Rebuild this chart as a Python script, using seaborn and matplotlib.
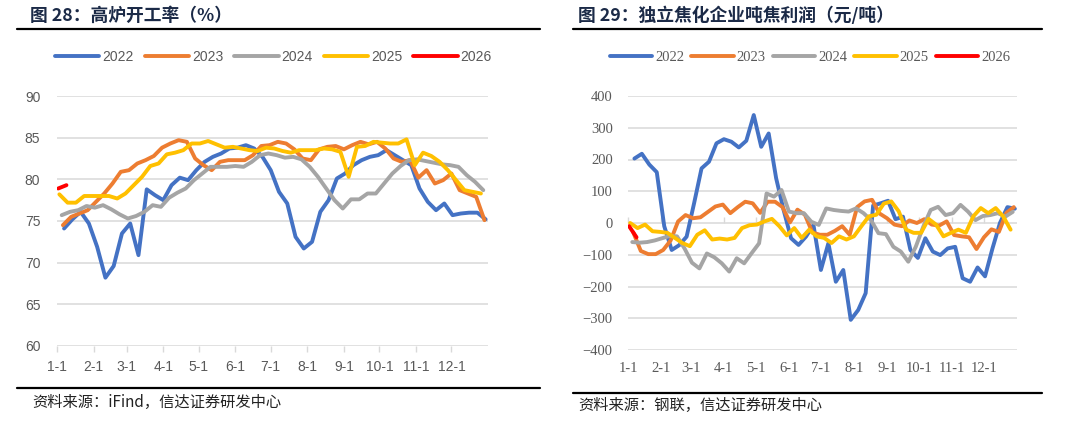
import numpy as np
import pandas as pd
import matplotlib
matplotlib.use("Agg")
import matplotlib.pyplot as plt
import seaborn as sns
from matplotlib.lines import Line2D
from matplotlib.ticker import NullFormatter

# ---------------- data ----------------
years = ["2022", "2023", "2024", "2025", "2026"]
start_dates = ["2022-01-07", "2023-01-06", "2024-01-05", "2025-01-03", "2026-01-02"]
colors = ["#4472C4", "#ED7D31", "#A5A5A5", "#FFC000", "#FF0000"]

# 高炉开工率 (%), weekly
bf_2022 = [74.1, 75.2, 76.1, 74.7, 71.9, 68.2, 69.6, 73.5, 74.7, 70.9,
           78.8, 78.1, 77.5, 79.3, 80.2, 79.9, 81.1, 82.1, 82.7, 83.1,
           83.7, 83.8, 84.1, 83.7, 82.7, 81.1, 78.5, 77.1, 73.1, 71.7,
           72.5, 76.1, 77.5, 80.1, 80.7, 81.7, 82.3, 82.7, 82.9, 83.5,
           82.9, 82.3, 81.7, 78.9, 77.3, 76.3, 77.1, 75.7, 75.9, 76.0,
           76.0, 75.2]
bf_2023 = [74.5, 75.5, 75.9, 76.3, 77.3, 78.3, 79.5, 80.9, 81.1, 81.9,
           82.3, 82.8, 83.8, 84.3, 84.7, 84.5, 82.5, 81.7, 81.1, 82.1,
           82.3, 82.3, 82.3, 82.9, 84.0, 84.1, 84.5, 84.3, 83.6, 82.5,
           82.3, 83.6, 83.9, 84.0, 83.6, 84.1, 84.5, 84.2, 84.5, 83.7,
           82.5, 82.1, 82.3, 80.2, 81.1, 79.5, 79.9, 80.7, 78.7, 78.3,
           77.9, 75.1]
bf_2024 = [75.7, 76.1, 76.3, 76.8, 76.6, 76.9, 76.4, 75.8, 75.3, 75.6,
           76.1, 76.9, 76.7, 77.8, 78.4, 78.9, 79.9, 80.7, 81.5, 81.5,
           81.5, 81.6, 81.5, 82.1, 82.9, 83.1, 82.9, 82.6, 82.7, 82.4,
           81.5, 80.3, 78.9, 77.5, 76.5, 77.6, 77.6, 78.3, 78.3, 79.5,
           80.7, 81.6, 82.3, 82.4, 82.2, 82.0, 81.8, 81.7, 81.5, 80.5,
           79.7, 78.7]
bf_2025 = [78.2, 77.2, 77.2, 78.0, 78.0, 78.0, 78.0, 77.7, 78.3, 79.3,
           80.3, 81.6, 81.9, 83.0, 83.2, 83.5, 84.3, 84.3, 84.6, 84.2,
           83.8, 83.9, 83.7, 83.5, 83.4, 83.8, 83.7, 83.4, 83.2, 83.5,
           83.5, 83.5, 83.7, 83.6, 83.3, 80.3, 83.9, 84.0, 84.5, 84.4,
           84.3, 84.3, 84.8, 81.7, 83.2, 82.8, 82.1, 81.1, 79.9, 78.7,
           78.5, 78.3]
bf_2026 = [78.9, 79.3]

# 独立焦化企业吨焦利润 (元/吨), weekly
pf_2022 = [203, 218, 184, 160, -10, -85, -70, -43, 62, 172,
           193, 251, 264, 256, 238, 259, 340, 240, 282, 141,
           41, -48, -69, -43, -6, -148, -64, -185, -148, -305,
           -274, -221, 55, 62, 70, 12, 20, -85, -110, -48,
           -90, -101, -80, -75, -174, -185, -140, -168, -80, 0,
           50, 45]
pf_2023 = [-30, -88, -98, -98, -85, -55, 5, 25, 15, 18,
           35, 52, 58, 31, 50, 67, 62, 32, 67, 67,
           50, 2, 42, 26, -30, -37, -37, -25, -10, -37,
           50, 68, 73, 30, 15, -5, -10, 8, 0, 12,
           -5, -8, 5, -38, -42, -45, -82, -45, -20, -28,
           32, 50]
pf_2024 = [-60, -62, -60, -55, -48, -41, -42, -80, -125, -143,
           -96, -108, -127, -153, -111, -127, -95, -64, 93, 83,
           104, 36, 31, 31, 4, -6, 46, 41, 38, 36,
           46, 31, 9, -32, -35, -75, -90, -122, -75, -12,
           41, 51, 25, 31, 57, 36, 9, 22, 25, 31,
           20, 35]
pf_2025 = [0, -16, -5, -26, -28, -31, -47, -63, -73, -37,
           -23, -52, -49, -52, -47, -16, -7, -5, 5, 13,
           -10, -39, -16, -47, -21, -42, -47, -63, -42, -52,
           -42, -10, 21, 26, 61, 68, 37, -21, -31, -31,
           13, -5, -42, -31, -21, -31, 21, 47, 31, 47,
           21, -21]
pf_2026 = [-10, -45]

month_labels = ["1-1", "2-1", "3-1", "4-1", "5-1", "6-1",
                "7-1", "8-1", "9-1", "10-1", "11-1", "12-1"]
left_yticks = [60, 65, 70, 75, 80, 85, 90]
right_yticks = [-400, -300, -200, -100, 0, 100, 200, 300, 400]


def long_frame(series):
    rows = []
    for yr, start, vals in zip(years, start_dates, series):
        dates = pd.date_range(start, periods=len(vals), freq="7D")
        day = (dates - pd.Timestamp(int(yr), 1, 1)).days
        rows.append(pd.DataFrame({"day": day, "value": vals, "year": yr}))
    return pd.concat(rows, ignore_index=True)


df_bf = long_frame([bf_2022, bf_2023, bf_2024, bf_2025, bf_2026])
df_pf = long_frame([pf_2022, pf_2023, pf_2024, pf_2025, pf_2026])
month_pos = [pd.Timestamp(2023, m, 1).dayofyear - 1 for m in range(1, 13)]

# ---------------- figure ----------------
sns.set_theme(style="white")
plt.rcParams["font.family"] = ["Liberation Sans", "Noto Sans CJK SC", "DejaVu Sans"]

W, H = 1080, 422
fig = plt.figure(figsize=(W / 100, H / 100), dpi=100)
fig.patch.set_facecolor("white")


def fx(px):
    return px / W


def fy(py):
    return 1 - py / H


grid_c = "#D9D9D9"
tick_c = "#595959"
palette = dict(zip(years, colors))

# ----- left chart -----
axL = fig.add_axes([fx(57), fy(346), fx(488) - fx(57), fy(96) - fy(346)])
sns.lineplot(data=df_bf, x="day", y="value", hue="year", hue_order=years,
             palette=palette, lw=2.8, estimator=None, sort=False, ax=axL)
axL.set_xlim(0, 365)
axL.set_ylim(60, 90)
axL.set_yticks(left_yticks)
axL.set_xticks(month_pos)
axL.set_xticklabels(month_labels)
for s in axL.spines.values():
    s.set_visible(False)
axL.grid(axis="y", color=grid_c, lw=1.1)
axL.grid(axis="x", visible=False)
axL.set_axisbelow(True)
axL.tick_params(axis="y", length=0, pad=12, labelsize=10, labelcolor=tick_c)
axL.tick_params(axis="x", length=4, width=1, color=grid_c, direction="out",
                pad=6, labelsize=10, labelcolor=tick_c, bottom=True)
axL.set_xlabel("")
axL.set_ylabel("")
sns.move_legend(axL, "center", bbox_to_anchor=(0.502, 1.156), ncol=5,
                frameon=False, title=None, handlelength=3.2, handletextpad=0.2,
                columnspacing=0.8, fontsize=10, labelcolor=tick_c)

# ----- right chart -----
serif = ["Liberation Serif", "DejaVu Serif"]
axR = fig.add_axes([fx(628), fy(350), fx(1017) - fx(628), fy(96) - fy(350)])
sns.lineplot(data=df_pf, x="day", y="value", hue="year", hue_order=years,
             palette=palette, lw=2.8, estimator=None, sort=False, ax=axR)
axR.set_xlim(0, 365)
axR.set_ylim(-400, 400)
axR.set_yticks(right_yticks)
axR.set_xticks(month_pos)
axR.set_xticklabels(month_labels)
for s in axR.spines.values():
    s.set_visible(False)
axR.grid(axis="y", color=grid_c, lw=1.1)
axR.grid(axis="x", visible=False)
axR.set_axisbelow(True)
axR.tick_params(axis="y", length=0, pad=11, labelsize=10.5, labelcolor=tick_c)
axR.tick_params(axis="x", length=0, pad=9, labelsize=10.5, labelcolor=tick_c)
for lab in axR.get_xticklabels() + axR.get_yticklabels():
    lab.set_fontfamily(serif)
axR.set_xlabel("")
axR.set_ylabel("")
sec = axR.secondary_xaxis(0.5)
sec.set_xticks(month_pos)
sec.xaxis.set_major_formatter(NullFormatter())
sec.tick_params(axis="x", length=4, width=1, color=grid_c, direction="out",
                labelbottom=False, labeltop=False)
for s in sec.spines.values():
    s.set_visible(False)
sns.move_legend(axR, "center", bbox_to_anchor=(0.468, 1.153), ncol=5,
                frameon=False, title=None, handlelength=2.9, handletextpad=0.2,
                columnspacing=0.5, prop={"family": serif, "size": 10.5},
                labelcolor=tick_c)

# ----- titles, rules, sources -----
cjk = ["Noto Sans CJK SC", "DejaVu Sans"]
title_c = "#1B2A47"
fig.text(fx(30), fy(16), "图 28：高炉开工率（%）", ha="left", va="center",
         fontsize=12.8, fontweight="bold", color=title_c, family=cjk)
fig.text(fx(578), fy(16), "图 29：独立焦化企业吨焦利润（元/吨）", ha="left", va="center",
         fontsize=12.8, fontweight="bold", color=title_c, family=cjk)

for x0, x1, y in [(17, 540, 29), (573, 1042, 29), (17, 540, 388), (573, 1042, 393)]:
    fig.add_artist(Line2D([fx(x0), fx(x1)], [fy(y), fy(y)], transform=fig.transFigure,
                          color="black", lw=1.6))

fig.text(fx(32), fy(402), "资料来源：iFind，信达证券研发中心", ha="left", va="center",
         fontsize=11, color="#222222", family=cjk, style="italic")
fig.text(fx(578), fy(405), "资料来源：钢联，信达证券研发中心", ha="left", va="center",
         fontsize=11, color="#222222", family=cjk, style="italic")

fig.savefig("out.png", dpi=100, facecolor="white")
